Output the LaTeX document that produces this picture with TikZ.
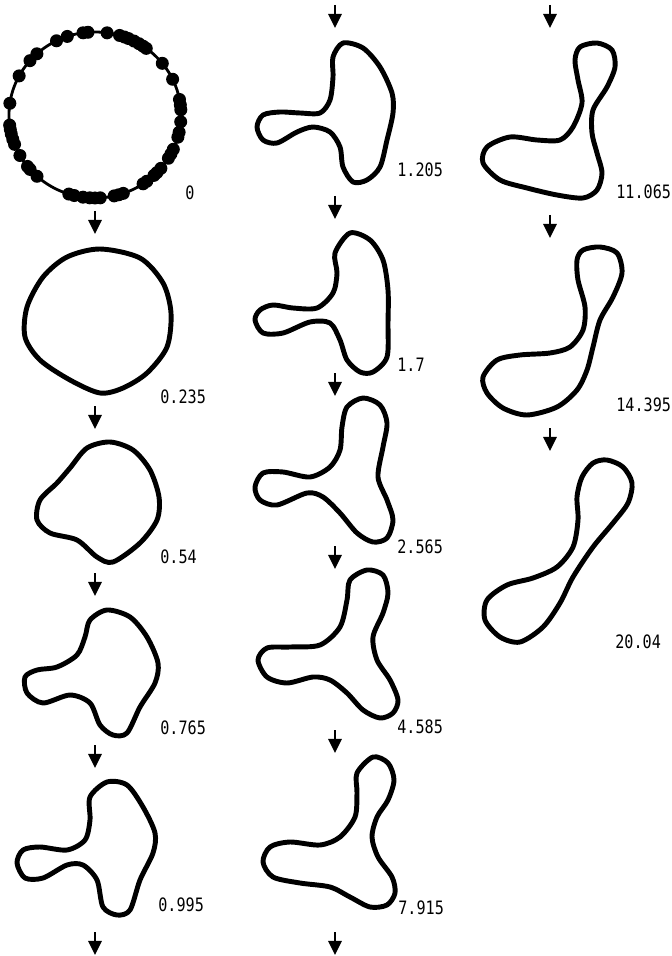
\documentclass[tikz,border=0pt]{standalone}
\usepackage{fontspec}
\newfontfamily\stampfont[FakeStretch=0.82]{DejaVu Sans Mono}
\usetikzlibrary{arrows.meta}
\definecolor{Ink}{HTML}{000000}

\begin{document}
\begin{tikzpicture}[
    x=0.02cm, y=-0.02cm,
    outline/.style={
        draw=Ink,
        line width=2.8pt,
        line join=round
    },
    ring/.style={
        draw=Ink,
        line width=1.6pt
    },
    bead/.style={
        fill=Ink
    },
    flow/.style={
        -{Triangle[length=8pt,width=7.5pt]},
        line width=1.5pt,
        draw=Ink
    },
    stamp/.style={
        font=\stampfont\fontsize{10.5}{11}\selectfont,
        text=Ink,
        anchor=west,
        inner sep=0pt
    }
]

% Frame
\useasboundingbox (0,0) rectangle (672,956);

% Arrows between stages
\foreach \x/\y [count=\i] in {95/211, 95/406, 95/573, 95/745, 95/932,
                              335/5, 335/196, 335/373, 335/546, 335/730, 335/932,
                              550/5, 550/215, 550/428} {
    \coordinate (down\i) at (\x,\y);
    \draw[flow] (down\i) -- ++(0,23);
}

% Stage 0: ring of beads
\coordinate (start) at (95,115);
\draw[ring] (start) ellipse [x radius=86, y radius=83];
\foreach \a in {3.6,7,10.8,25.5,38.5,53.4,56,59.2,63,67.1,70,73.4,81.9,94.7,98,108.8,
                116.6,132.5,139.1,151.9,171.9,187,190,193.2,197,200.7,209.2,218.3,221,227.6,
                252.3,256,262,266.5,270,273.5,282.9,286,289.2,304,307,313.3,316,320,
                328.6,332,335.6,344.5,348,355.3} {
    \fill[bead] (start) ++(-\a:86 and 83) circle [radius=6.5];
}
\node[stamp] (t0) at (185,193) {0};

% Column one
\draw[outline] plot[smooth cycle] coordinates {
    (100,249) (140,258) (163,283) (171,313) (167,347) (147,373) (123,388) (100,393)
    (70,380) (40,360) (25,337) (27,307) (43,277) (67,257)};
\node[stamp] (t1) at (160,397) {0.235};

\draw[outline] plot[smooth cycle] coordinates {
    (110,442) (133,450) (150,470) (159,497) (157,520) (140,543) (113,562) (97,557)
    (77,540) (50,533) (37,520) (40,500) (57,483) (70,468) (87,448)};
\node[stamp] (t2) at (160,557) {0.54};

\draw[outline] plot[smooth cycle] coordinates {
    (107,610) (130,617) (147,637) (158,663) (155,683) (140,707) (127,733) (113,735)
    (100,725) (90,703) (70,695) (43,703) (27,693) (25,677) (37,670) (57,667)
    (77,655) (85,637) (90,620)};
\node[stamp] (t3) at (160,728) {0.765};

\draw[outline] plot[smooth cycle] coordinates {
    (107,782) (127,785) (143,807) (155,833) (153,853) (140,880) (130,910) (117,915)
    (103,907) (97,880) (83,865) (67,865) (43,878) (25,878) (17,863) (23,850)
    (40,847) (67,850) (85,840) (90,820) (90,797)};
\node[stamp] (t4) at (158,905) {0.995};

% Column two
\draw[outline] plot[smooth cycle] coordinates {
    (343,43) (363,48) (380,67) (392,93) (393,113) (387,140) (380,167) (367,180)
    (353,182) (343,167) (340,147) (330,132) (313,127) (297,132) (277,143) (263,140)
    (257,127) (263,115) (280,112) (300,113) (320,113) (330,100) (333,77) (333,57)};
\node[stamp] (t5) at (397,170) {1.205};

\draw[outline] plot[smooth cycle] coordinates {
    (350,233) (370,240) (383,260) (388,290) (388,323) (387,357) (373,372) (360,372)
    (347,360) (340,340) (330,323) (310,322) (283,333) (263,333) (255,320) (260,310)
    (273,305) (293,308) (317,308) (333,293) (337,273) (335,253)};
\node[stamp] (t6) at (397,365) {1.7};

\draw[outline] plot[smooth cycle] coordinates {
    (363,398) (380,405) (387,423) (383,447) (378,477) (387,500) (393,520) (387,538)
    (373,542) (357,533) (340,513) (323,497) (307,493) (277,505) (260,500) (255,487)
    (263,473) (283,472) (310,477) (330,467) (340,450) (342,427) (347,407)};
\node[stamp] (t7) at (397,547) {2.565};

\draw[outline] plot[smooth cycle] coordinates {
    (367,570) (383,575) (388,593) (383,613) (373,637) (377,660) (390,680) (398,700)
    (393,713) (380,718) (363,710) (347,693) (330,680) (313,677) (287,683) (267,677)
    (258,660) (267,648) (290,647) (320,645) (340,627) (347,600) (350,580)};
\node[stamp] (t8) at (397,727) {4.585};

\draw[outline] plot[smooth cycle] coordinates {
    (373,757) (388,763) (394,780) (388,800) (377,817) (372,837) (378,857) (392,877)
    (395,893) (387,905) (370,907) (350,897) (330,887) (300,883) (273,877) (263,862)
    (270,847) (290,842) (320,845) (340,837) (355,817) (357,793) (357,773)};
\node[stamp] (t9) at (398,908) {7.915};

% Column three
\draw[outline] plot[smooth cycle] coordinates {
    (597,43) (612,50) (615,67) (607,87) (593,110) (592,133) (597,153) (602,173)
    (597,190) (583,198) (557,195) (527,188) (500,180) (483,163) (487,147) (510,137)
    (537,140) (560,140) (573,127) (582,103) (578,80) (575,60) (580,47)};
\node[stamp] (t10) at (616,192) {11.065};

\draw[outline] plot[smooth cycle] coordinates {
    (600,247) (617,253) (622,273) (613,297) (600,320) (593,347) (587,370) (577,390)
    (557,407) (527,415) (503,408) (487,393) (483,377) (497,360) (520,355) (550,353)
    (570,347) (583,330) (585,307) (578,280) (577,260) (583,250)};
\node[stamp] (t11) at (616,405) {14.395};

\draw[outline] plot[smooth cycle] coordinates {
    (607,460) (623,467) (632,483) (628,503) (613,523) (593,547) (573,577) (560,603)
    (543,627) (520,642) (500,637) (485,620) (487,600) (507,585) (533,578) (557,567)
    (573,547) (578,520) (577,497) (582,477) (593,463)};
\node[stamp] (t12) at (615,642) {20.04};

\end{tikzpicture}
\end{document}
